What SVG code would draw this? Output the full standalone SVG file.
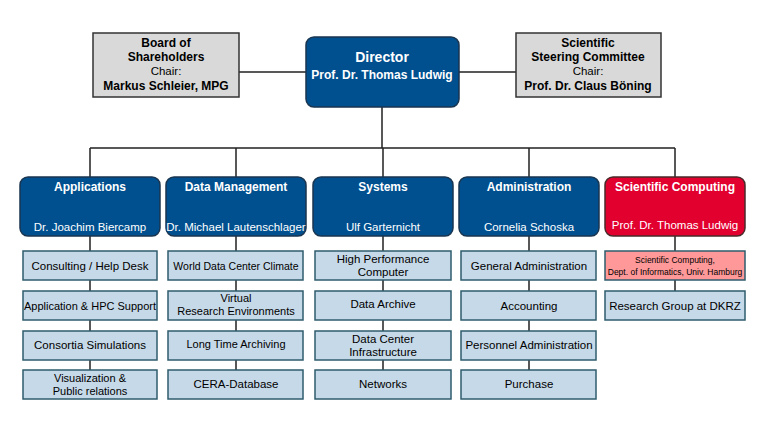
<svg xmlns="http://www.w3.org/2000/svg" width="768" height="433" viewBox="0 0 768 433">
<style>
text{font-family:"Liberation Sans",Arial,sans-serif;text-anchor:middle}
.hd{fill:#00508f;stroke:#1a3550;stroke-width:1.5}
.red{fill:#e2002f;stroke:#4a2a2a;stroke-width:1.5}
.sub{fill:#c6d9e8;stroke:#2f5c6e;stroke-width:1.5}
.pink{fill:#ff9999;stroke:#2f5c6e;stroke-width:1.5}
.gray{fill:#d9d9d9;stroke:#333;stroke-width:1.5}
.ht{fill:#fff;font-size:12px;font-weight:bold}
.hn{fill:#fff;font-size:11.5px}
.st{fill:#000;font-size:11.5px}
.gt{fill:#000;font-size:12px;font-weight:bold}
.ln{stroke:#222;stroke-width:1.5;fill:none}
</style>
<g id="connectors">
<path class="ln" d="M239 72H306M459 72H516M382 107V148M90 148H675M90 148V177M236 148V177M383 148V177M529 148V177M675 148V177"/>
<path class="ln" d="M90 236V399M236 236V399M383 236V399M529 236V399M675 236V291"/>
</g>
<g id="board"><rect class="gray" x="93" y="33" width="146" height="64"/>
<text class="gt" x="166" y="47">Board of</text><text class="gt" x="166" y="61">Shareholders</text><text class="st" x="166" y="75">Chair:</text><text class="gt" x="166" y="90">Markus Schleier, MPG</text></g>
<g id="director"><rect class="hd" x="306" y="37" width="153" height="70" rx="8"/>
<text class="ht" x="382" y="62" style="font-size:14px">Director</text><text class="ht" x="382" y="79">Prof. Dr. Thomas Ludwig</text></g>
<g id="ssc"><rect class="gray" x="516" y="33" width="145" height="64"/>
<text class="gt" x="588" y="47">Scientific</text><text class="gt" x="588" y="61">Steering Committee</text><text class="st" x="588" y="75">Chair:</text><text class="gt" x="588" y="90">Prof. Dr. Claus Böning</text></g>

<g id="applications"><rect class="hd" x="20" y="177" width="140" height="59" rx="8"/><text class="ht" x="90" y="191">Applications</text><text class="hn" x="90" y="231">Dr. Joachim Biercamp</text></g>
<g id="datamgmt"><rect class="hd" x="166" y="177" width="140" height="59" rx="8"/><text class="ht" x="236" y="191">Data Management</text><text class="hn" x="236" y="231">Dr. Michael Lautenschlager</text></g>
<g id="systems"><rect class="hd" x="313" y="177" width="140" height="59" rx="8"/><text class="ht" x="383" y="191">Systems</text><text class="hn" x="383" y="231">Ulf Garternicht</text></g>
<g id="administration"><rect class="hd" x="459" y="177" width="140" height="59" rx="8"/><text class="ht" x="529" y="191">Administration</text><text class="hn" x="529" y="231">Cornelia Schoska</text></g>
<g id="scicomp"><rect class="red" x="605" y="177" width="140" height="59" rx="8"/><text class="ht" x="675" y="191">Scientific Computing</text><text class="hn" x="675" y="229">Prof. Dr. Thomas Ludwig</text></g>

<g id="a1"><rect class="sub" x="23" y="251" width="134" height="29"/><text class="st" x="90" y="270">Consulting / Help Desk</text></g>
<g id="a2"><rect class="sub" x="23" y="291" width="134" height="29"/><text class="st" x="90" y="310" style="font-size:11px">Application &amp; HPC Support</text></g>
<g id="a3"><rect class="sub" x="23" y="331" width="134" height="29"/><text class="st" x="90" y="349">Consortia Simulations</text></g>
<g id="a4"><rect class="sub" x="23" y="370" width="134" height="29"/><text class="st" x="90" y="382" style="font-size:11px">Visualization &amp;</text><text class="st" x="90" y="395" style="font-size:11px">Public relations</text></g>

<g id="d1"><rect class="sub" x="168" y="251" width="135" height="29"/><text class="st" x="236" y="270" style="font-size:10.5px">World Data Center Climate</text></g>
<g id="d2"><rect class="sub" x="168" y="291" width="135" height="29"/><text class="st" x="236" y="302" style="font-size:11px">Virtual</text><text class="st" x="236" y="315" style="font-size:11px">Research Environments</text></g>
<g id="d3"><rect class="sub" x="168" y="331" width="135" height="29"/><text class="st" x="236" y="348" style="font-size:11px">Long Time Archiving</text></g>
<g id="d4"><rect class="sub" x="168" y="370" width="135" height="29"/><text class="st" x="236" y="388">CERA-Database</text></g>

<g id="s1"><rect class="sub" x="315" y="251" width="136" height="29"/><text class="st" x="383" y="263">High Performance</text><text class="st" x="383" y="276">Computer</text></g>
<g id="s2"><rect class="sub" x="315" y="291" width="136" height="29"/><text class="st" x="383" y="308">Data Archive</text></g>
<g id="s3"><rect class="sub" x="315" y="331" width="136" height="29"/><text class="st" x="383" y="343">Data Center</text><text class="st" x="383" y="356">Infrastructure</text></g>
<g id="s4"><rect class="sub" x="315" y="370" width="136" height="29"/><text class="st" x="383" y="388">Networks</text></g>

<g id="m1"><rect class="sub" x="461" y="251" width="135" height="29"/><text class="st" x="529" y="270">General Administration</text></g>
<g id="m2"><rect class="sub" x="461" y="291" width="135" height="29"/><text class="st" x="529" y="310">Accounting</text></g>
<g id="m3"><rect class="sub" x="461" y="331" width="135" height="29"/><text class="st" x="529" y="349">Personnel Administration</text></g>
<g id="m4"><rect class="sub" x="461" y="370" width="135" height="29"/><text class="st" x="529" y="388">Purchase</text></g>

<g id="c1"><rect class="pink" x="605" y="251" width="140" height="29"/><text class="st" x="675" y="263" style="font-size:8.5px">Scientific Computing,</text><text class="st" x="675" y="275" style="font-size:8.5px">Dept. of Informatics, Univ. Hamburg</text></g>
<g id="c2"><rect class="sub" x="605" y="291" width="140" height="29"/><text class="st" x="675" y="310">Research Group at DKRZ</text></g>
</svg>
